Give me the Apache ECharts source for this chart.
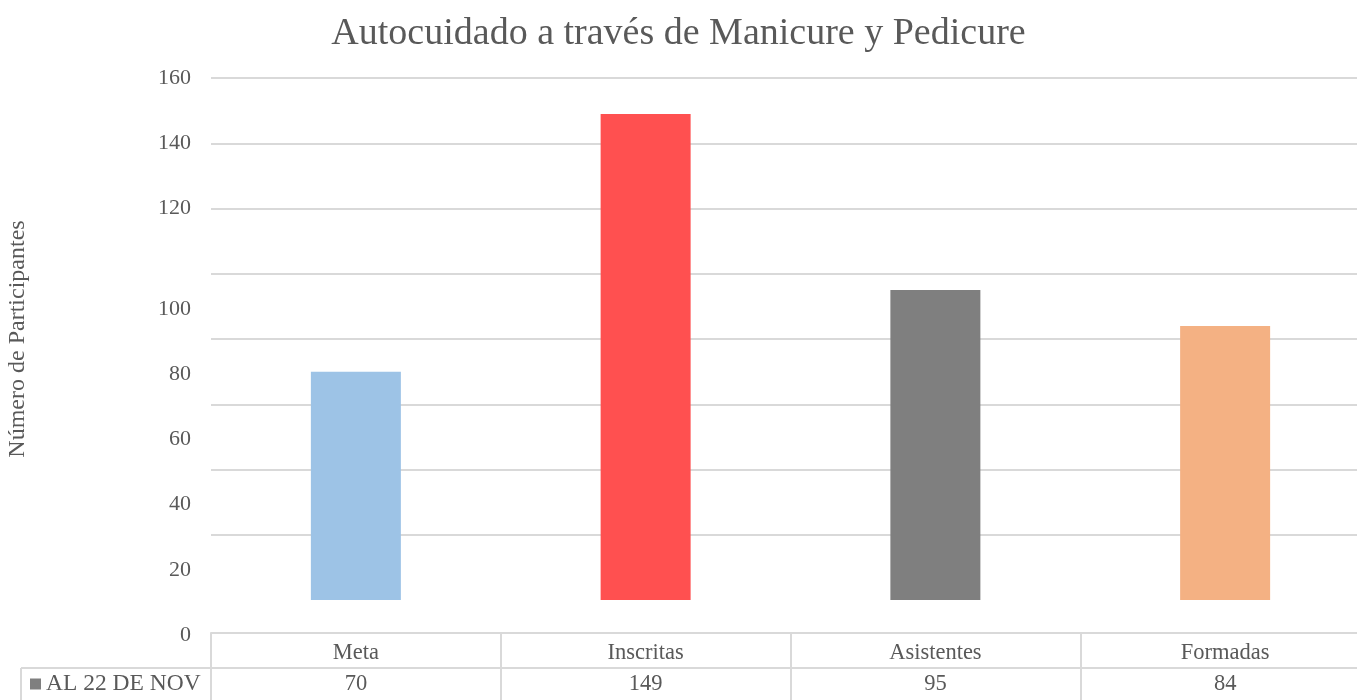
<!DOCTYPE html>
<html>
<head>
<meta charset="utf-8">
<title>Autocuidado a través de Manicure y Pedicure</title>
<script src="https://cdn.jsdelivr.net/npm/echarts@6/dist/echarts.min.js"></script>
<style>
	html, body { margin: 0; padding: 0; background: #fff; }
	#chart { width: 1357px; height: 700px; }
</style>
</head>
<body>
<div id="chart"></div>
<script>
var categories = ['Meta', 'Inscritas', 'Asistentes', 'Formadas'];
var values = [70, 149, 95, 84];
var barColors = ['#9dc3e6', '#ff5050', '#7f7f7f', '#f4b183'];
var seriesName = 'AL 22 DE NOV';
var yTicks = { min: 0, max: 160, step: 20 };

var font = '"Liberation Serif", "DejaVu Serif", serif';
var textGray = '#595959';
var lineGray = '#d9d9d9';

var chart = echarts.init(document.getElementById('chart'));

var barData = [];
for (var i = 0; i < values.length; i++) {
	barData.push({
		value: values[i],
		itemStyle: { color: barColors[i] }
	});
}

var option = {
	backgroundColor: '#ffffff',
	animation: false,
	title: {
		text: 'Autocuidado a través de Manicure y Pedicure',
		left: 'center',
		top: 10,
		textStyle: {
			fontFamily: font,
			fontWeight: 'normal',
			fontSize: 38,
			color: textGray
		}
	},
	legend: {
		data: [seriesName],
		icon: 'rect',
		left: 30,
		top: 672,
		padding: 0,
		itemWidth: 11,
		itemHeight: 11,
		textStyle: {
			fontFamily: font,
			fontSize: 23.5,
			color: textGray
		}
	},
	grid: {
		left: 211,
		top: 78,
		width: 1159,
		height: 522,
		containLabel: false,
		outerBoundsMode: 'none'
	},
	xAxis: [{
		type: 'category',
		data: categories,
		axisLine: { show: false },
		axisTick: { show: false },
		axisLabel: { show: false }
	}, {
		// tabla de datos bajo el gráfico
		type: 'category',
		data: categories,
		position: 'bottom',
		offset: 33,
		axisLine: {
			show: true,
			lineStyle: { color: lineGray, width: 2 }
		},
		axisTick: {
			show: true,
			length: 67,
			lineStyle: { color: lineGray, width: 2 }
		},
		axisLabel: {
			margin: 5,
			interval: 0,
			formatter: function(v, idx) {
				return '{n|' + v + '}\n{v|' + values[idx] + '}';
			},
			rich: {
				n: { fontFamily: font, fontSize: 22.5, color: textGray, lineHeight: 31 },
				v: { fontFamily: font, fontSize: 22.5, color: textGray, lineHeight: 31 }
			}
		}
	}],
	yAxis: {
		type: 'value',
		min: yTicks.min,
		max: yTicks.max,
		interval: yTicks.step,
		name: 'Número de Participantes',
		nameLocation: 'middle',
		nameRotate: 90,
		nameGap: 181,
		nameTextStyle: {
			fontFamily: font,
			fontSize: 24,
			color: textGray
		},
		axisLine: { show: false },
		axisTick: { show: false },
		splitLine: {
			show: true,
			showMinLine: false,
			lineStyle: { color: lineGray, width: 2 }
		},
		axisLabel: {
			margin: 20,
			formatter: function(v) {
				// las etiquetas inferiores aparecen desplazadas en el original
				return v <= 100 ? '{d|' + v + '}' : '{u|' + v + '}';
			},
			rich: {
				u: { fontFamily: font, fontSize: 22, color: textGray },
				d: { fontFamily: font, fontSize: 22, color: textGray, padding: [70, 0, 0, 0] }
			}
		}
	},
	series: [{
		name: seriesName,
		type: 'bar',
		barWidth: 90,
		color: '#7f7f7f',
		data: barData
	}],
	graphic: [{
		type: 'line',
		shape: { x1: 21, y1: 668, x2: 1357, y2: 668 },
		style: { stroke: lineGray, lineWidth: 2 }
	}, {
		type: 'line',
		shape: { x1: 21, y1: 668, x2: 21, y2: 700 },
		style: { stroke: lineGray, lineWidth: 2 }
	}]
};

chart.setOption(option);
</script>
</body>
</html>
